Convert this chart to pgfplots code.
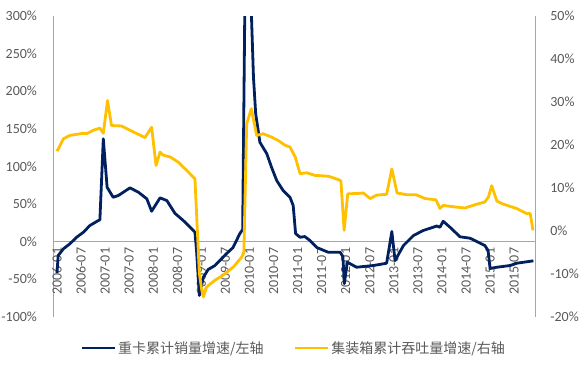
\documentclass[border=0pt]{standalone}
\usepackage{pgfplots}
\pgfplotsset{compat=1.18}
\usepackage{pgfplotstable}
\usepackage{fontspec}
\setmainfont{Carlito}
\newfontfamily\cjk{Noto Sans CJK SC}
\definecolor{navy}{RGB}{0,32,96}
\definecolor{gold}{RGB}{255,192,0}
\definecolor{axgray}{RGB}{166,166,166}
\definecolor{txtgray}{RGB}{89,89,89}

\pgfplotstableread{
m v
0 -42
0.3 -18.6
1.6 -9.7
3.2 -3.1
4.9 5.7
6.6 12.4
8.2 21.3
10.3 27.9
10.7 28.9
11.55 136.6
12.5 72.2
14.0 58.9
15.3 61.2
18.2 71.4
20.3 65.6
22.4 56.8
23.6 40.3
25.7 58.1
27.4 54.5
29.4 37.6
31.5 27.9
33.2 19.0
34.4 12.4
34.8 -12
35.5 -71.8
36.5 -47.5
37.7 -37.2
39.4 -31.9
40.6 -25.3
42.3 -16
43.9 -8
45.6 10.6
46.3 16
47.0 400
48.0 380
49.0 218
49.55 170
50.6 132
52.3 117
53.5 98.8
54.8 81
56.4 67.8
58.1 58.9
58.9 47.9
59.5 10.6
60.6 5.7
61.8 6.6
63.1 1.3
64.8 -8
67.6 -14.2
70.6 -14.2
71.3 -20
71.65 -56
72.4 -27.5
74.7 -34.2
78.9 -31.9
82.2 -28.9
83.5 13.3
84.3 -25.3
86.4 -5.3
88.9 8
91.3 14.6
94.7 20.6
95.5 19
96.3 27
98.0 19
100.5 6.3
103 4.4
106.7 -5.3
107.5 -12
108 -35.9
109.7 -34.2
113 -31.9
114.6 -28.9
118.8 -25.7
}\truck

\pgfplotstableread{
m v
0 18.5
1.6 21.4
3.2 22.2
6.6 22.7
7.4 22.6
9.05 23.4
10.7 23.9
11.55 22.7
12.6 30.3
13.6 24.5
16.1 24.4
18.2 23.4
21.95 21.7
23.6 24.1
24.7 15.2
25.7 18.3
26.5 17.6
28.2 17.2
30.2 16.0
32.3 14.1
34.4 12.1
35.5 -9.9
36.1 -13.8
36.5 -15.4
37.3 -13.1
39.4 -11.5
41.5 -10.3
44.0 -8.4
46.1 -6.1
46.6 -5.0
47.3 24.9
48.45 28.4
49.8 22.2
51.4 22.6
53.5 21.8
55.2 21.0
56.9 19.9
58.1 19.5
59.4 17.2
60.6 13.3
62.3 13.5
64.3 12.9
67.7 12.7
70.2 11.9
70.8 11.6
71.6 0.1
72.5 8.6
75.1 8.7
76.4 8.8
78.1 7.5
79.7 8.3
82.2 8.5
83.5 14.4
84.8 8.8
87.2 8.4
89.5 8.4
91.8 7.5
94.5 7.2
95.5 5.2
96.3 5.9
99.7 5.5
101.7 5.3
104.7 6.2
106.7 6.7
107.6 7.9
108.4 10.5
109.7 6.9
111.3 6.2
114.6 5.2
117.1 4.0
118.0 4.0
118.7 0.1
}\container

\begin{document}
\begin{tikzpicture}[x=1pt,y=1pt]
\path[use as bounding box] (-53.3,-47.3) rectangle (526.7,316.7);
\begin{axis}[
  at={(0pt,0pt)}, anchor=south west,
  scale only axis, width=481.7pt, height=300.7pt,
  xmin=-0.92, xmax=119.2, ymin=-100, ymax=300,
  axis x line=middle, axis y line=left,
  axis line style={axgray, line width=0.75pt, -},
  tick style={draw=none},
  tick label style={font=\fontsize{14}{16}\selectfont, text=txtgray},
  xtick={0,6,...,114},
  xticklabels={2006-01,2006-07,2007-01,2007-07,2008-01,2008-07,2009-01,2009-07,2010-01,2010-07,2011-01,2011-07,2012-01,2012-07,2013-01,2013-07,2014-01,2014-07,2015-01,2015-07},
  xticklabel style={rotate=90, anchor=east, inner xsep=4pt, inner ysep=0pt},
  ytick={-100,-50,...,300},
  yticklabels={-100\%,-50\%,0\%,50\%,100\%,150\%,200\%,250\%,300\%},
  yticklabel style={inner sep=0pt, xshift=-14pt},
]
\addplot[navy, line width=2.8pt, line join=round, no markers] table[x=m,y=v] {\truck};
\end{axis}
\begin{axis}[
  at={(0pt,0pt)}, anchor=south west,
  scale only axis, width=481.7pt, height=300.7pt,
  xmin=-0.92, xmax=119.2, ymin=-20, ymax=50,
  axis x line=none, axis y line=right,
  axis line style={axgray, line width=0.75pt, -},
  tick style={draw=none},
  tick label style={font=\fontsize{14}{16}\selectfont, text=txtgray},
  ytick={-20,-10,...,50},
  yticklabels={-20\%,-10\%,0\%,10\%,20\%,30\%,40\%,50\%},
  yticklabel style={inner sep=0pt, xshift=13pt},
  legend style={at={(0.4987,-0.104)}, anchor=center, draw=none, fill=none,
    legend columns=2, font=\fontsize{14}{16}\selectfont, text=txtgray,
    nodes={inner xsep=2pt, inner ysep=1pt},
    /tikz/every even column/.append style={column sep=28pt}},
  legend image code/.code={\draw[#1] (0pt,0pt) -- (33pt,0pt);},
]
\addlegendimage{navy, line width=2.8pt}
\addlegendentry{\cjk 重卡累计销量增速/左轴}
\addplot[gold, line width=2.8pt, line join=round, no markers] table[x=m,y=v] {\container};
\addlegendentry{\cjk 集装箱累计吞吐量增速/右轴}
\end{axis}
\end{tikzpicture}
\end{document}
